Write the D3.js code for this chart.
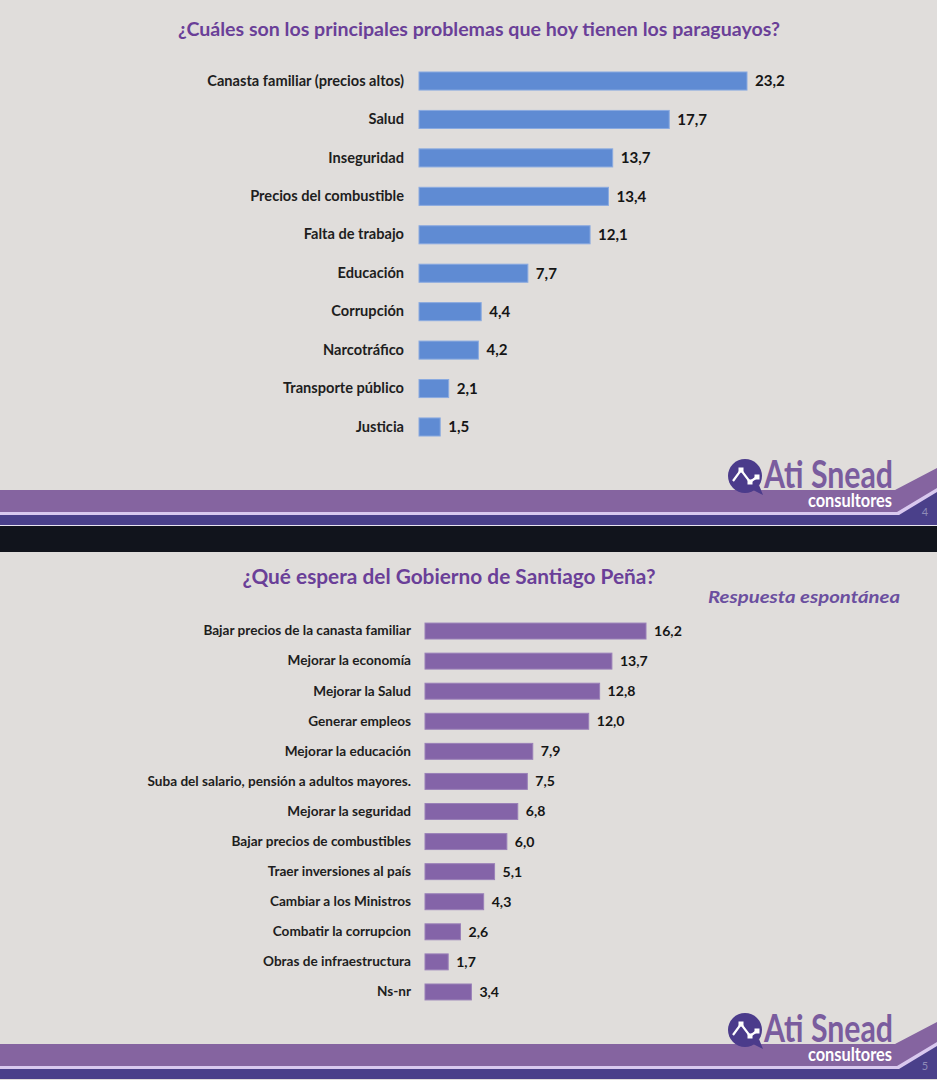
<!DOCTYPE html>
<html>
<head>
<meta charset="utf-8">
<script src="https://cdn.jsdelivr.net/npm/d3@7"></script>
<style>
  html, body { margin: 0; padding: 0; background: #11141c; }
  svg { display: block; }
  text { font-family: Lato, "Open Sans", sans-serif; }
</style>
</head>
<body>
<svg id="chart"></svg>
<script>
// top slide data
const problemTitle = "¿Cuáles son los principales problemas que hoy tienen los paraguayos?";
const problemCats = ["Canasta familiar (precios altos)", "Salud", "Inseguridad", "Precios del combustible",
  "Falta de trabajo", "Educación", "Corrupción", "Narcotráfico", "Transporte público", "Justicia"];
const problemVals = [23.2, 17.7, 13.7, 13.4, 12.1, 7.7, 4.4, 4.2, 2.1, 1.5];

// bottom slide data
const hopeTitle = "¿Qué espera del Gobierno de Santiago Peña?";
const hopeSubtitle = "Respuesta espontánea";
const hopeCats = ["Bajar precios de la canasta familiar", "Mejorar la economía", "Mejorar la Salud",
  "Generar empleos", "Mejorar la educación", "Suba del salario, pensión a adultos mayores.",
  "Mejorar la seguridad", "Bajar precios de combustibles", "Traer inversiones al país",
  "Cambiar a los Ministros", "Combatir la corrupcion", "Obras de infraestructura", "Ns-nr"];
const hopeVals = [16.2, 13.7, 12.8, 12.0, 7.9, 7.5, 6.8, 6.0, 5.1, 4.3, 2.6, 1.7, 3.4];

const slideNums = ["4", "5"];

const W = 937, H = 1080;
const bg = "#e0dddb";
const titleColor = "#6a3f98";
const fmt = v => v.toFixed(1).replace(".", ",");

const svg = d3.select("#chart").attr("width", W).attr("height", H);

// backgrounds
svg.append("rect").attr("x", 0).attr("y", 0).attr("width", W).attr("height", 526).attr("fill", bg);
svg.append("rect").attr("x", 0).attr("y", 552).attr("width", W).attr("height", 528).attr("fill", bg);

function drawBars(cfg) {
  const g = svg.append("g");
  const x = d3.scaleLinear().domain([0, cfg.maxVal]).range([cfg.x0, cfg.x1]);
  const y = d3.scaleBand().domain(cfg.cats).range(cfg.yRange)
    .paddingInner(cfg.pad).paddingOuter(cfg.pad / 2);

  const axis = d3.axisLeft(y).tickSize(0).tickPadding(cfg.labelPad);
  const ag = g.append("g").attr("transform", `translate(${cfg.x0},0)`).call(axis);
  ag.select(".domain").remove();
  ag.selectAll("text")
    .attr("fill", "#1e1e1e")
    .style("font-family", "Lato, sans-serif")
    .style("font-weight", "bold")
    .style("font-size", cfg.fontSize + "px");

  const rows = cfg.cats.map((c, i) => ({ c, v: cfg.vals[i] }));
  g.selectAll("rect.bar").data(rows).enter().append("rect")
    .attr("class", "bar")
    .attr("x", cfg.x0)
    .attr("y", d => y(d.c))
    .attr("width", d => x(d.v) - cfg.x0)
    .attr("height", y.bandwidth())
    .attr("fill", cfg.color)
    .attr("stroke", cfg.stroke)
    .attr("stroke-width", 1);

  g.selectAll("text.val").data(rows).enter().append("text")
    .attr("class", "val")
    .attr("x", d => x(d.v) + 8)
    .attr("y", d => y(d.c) + y.bandwidth() / 2)
    .attr("dy", "0.35em")
    .attr("fill", "#151515")
    .attr("font-weight", "bold")
    .attr("font-size", cfg.fontSize + 0.5)
    .text(d => fmt(d.v));
}

svg.append("text").attr("x", 479).attr("y", 36).attr("text-anchor", "middle")
  .attr("fill", titleColor).attr("font-weight", "bold").attr("font-size", 18.5)
  .attr("textLength", 602).attr("lengthAdjust", "spacingAndGlyphs")
  .text(problemTitle);

drawBars({
  cats: problemCats, vals: problemVals, maxVal: 23.2,
  x0: 419, x1: 747, yRange: [61.8, 446.2], pad: 0.53, labelPad: 15,
  color: "#5f8bd3", stroke: "#8aaae0", fontSize: 14.6
});

svg.append("text").attr("x", 449).attr("y", 584).attr("text-anchor", "middle")
  .attr("fill", titleColor).attr("font-weight", "bold").attr("font-size", 20)
  .attr("textLength", 413).attr("lengthAdjust", "spacingAndGlyphs")
  .text(hopeTitle);

svg.append("text").attr("x", 900).attr("y", 603).attr("text-anchor", "end")
  .attr("fill", "#6b4f9f").attr("font-weight", "bold").attr("font-style", "italic").attr("font-size", 17)
  .attr("textLength", 192).attr("lengthAdjust", "spacingAndGlyphs")
  .text(hopeSubtitle);

drawBars({
  cats: hopeCats, vals: hopeVals, maxVal: 16.2,
  x0: 425, x1: 646, yRange: [616, 1007], pad: 0.47, labelPad: 14,
  color: "#8464a8", stroke: "#9a80b8", fontSize: 13.6
});

// footer bands + logo
function footer(top, num) {
  const g = svg.append("g").attr("transform", `translate(0,${top})`);
  // top = y of purple band top
  g.append("path")
    .attr("d", `M0,0 H895 L937,-22 V23 H0 Z`).attr("fill", "#8564a0");
  g.append("path")
    .attr("d", `M0,22 H897 L937,-2 V35 H0 Z`).attr("fill", "#d9c9ef");
  g.append("path")
    .attr("d", `M0,25 H899 L937,2 V35 H0 Z`).attr("fill", "#4a408a");
  g.append("text").attr("x", 925).attr("y", 26).attr("text-anchor", "middle")
    .attr("fill", "#8f8bb8").attr("font-size", 11).text(num);

  // logo icon
  const cx = 745, cy = -14;
  g.append("path")
    .attr("d", `M${cx + 8},${cy + 14} L${cx + 18},${cy + 19} L${cx + 14},${cy + 9} Z`).attr("fill", "#4b3b8b");
  g.append("circle").attr("cx", cx).attr("cy", cy).attr("r", 17).attr("fill", "#4b3b8b");
  const pts = [[cx - 12, cy + 5], [cx - 4, cy - 6], [cx + 5, cy + 6], [cx + 12, cy + 1]];
  g.append("path").attr("d", d3.line()(pts)).attr("fill", "none")
    .attr("stroke", "#fff").attr("stroke-width", 2.2);
  g.selectAll("rect.dot").data(pts.slice(1)).enter().append("rect")
    .attr("x", d => d[0] - 2.5).attr("y", d => d[1] - 2.5)
    .attr("width", 5).attr("height", 5).attr("fill", "#fff");

  g.append("text").attr("x", 764).attr("y", -2).attr("fill", "#7a5c9e")
    .attr("font-family", "'Liberation Sans Narrow', 'DejaVu Sans Condensed', sans-serif")
    .attr("font-weight", "bold").attr("font-size", 38)
    .attr("textLength", 129).attr("lengthAdjust", "spacingAndGlyphs")
    .text("Ati Snead");
  g.append("text").attr("x", 808).attr("y", 17).attr("fill", "#fff")
    .attr("font-family", "'Liberation Sans Narrow', 'DejaVu Sans Condensed', sans-serif")
    .attr("font-weight", "bold").attr("font-size", 19)
    .attr("textLength", 84).attr("lengthAdjust", "spacingAndGlyphs")
    .text("consultores");
}

footer(490, slideNums[0]);
footer(1044, slideNums[1]);
svg.append("rect").attr("x", 0).attr("y", 525).attr("width", W).attr("height", 1).attr("fill", "#e8e4f0");
</script>
</body>
</html>
